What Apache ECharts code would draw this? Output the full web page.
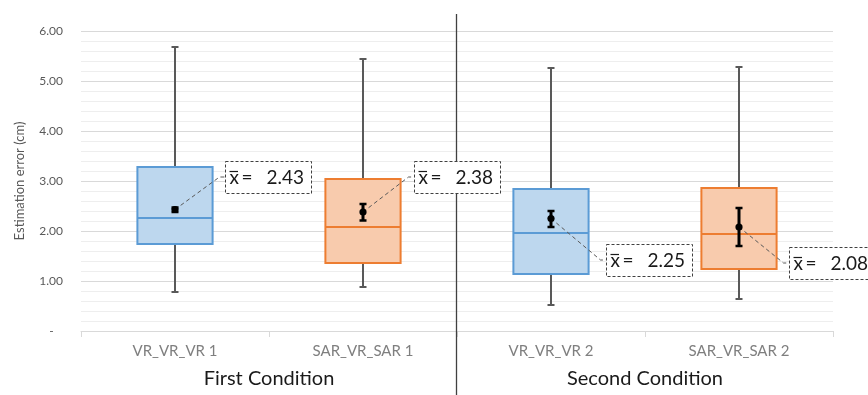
<!DOCTYPE html>
<html>
<head>
<meta charset="utf-8">
<script src="https://cdn.jsdelivr.net/npm/echarts@6/dist/echarts.min.js"></script>
<style>html,body{margin:0;padding:0;background:#fff}#c{width:868px;height:395px}</style>
</head>
<body>
<div id="c"></div>
<script>
// ---- data ----
const categories = ['VR_VR_VR 1', 'SAR_VR_SAR 1', 'VR_VR_VR 2', 'SAR_VR_SAR 2'];
const groups = ['First Condition', 'Second Condition'];
const whiskerLow = [0.78, 0.88, 0.52, 0.64];
const quartile1 = [1.74, 1.36, 1.14, 1.24];
const medians = [2.26, 2.08, 1.96, 1.94];
const quartile3 = [3.28, 3.04, 2.84, 2.86];
const whiskerHigh = [5.68, 5.44, 5.26, 5.28];
const means = [2.43, 2.38, 2.25, 2.08];
const meanErrLow = [2.38, 2.21, 2.08, 1.70];
const meanErrHigh = [2.47, 2.54, 2.40, 2.46];
const yMin = 0, yMax = 6, yStep = 1;

// ---- styles / layout ----
const FONT = 'Lato, "Open Sans", sans-serif';
const boxStyles = [
  { fill: '#BDD7EE', stroke: '#5B9BD5' },
  { fill: '#F8CBAD', stroke: '#ED7D31' }
];
const labelOffsets = [[50, -33], [51, -35], [55, 41], [50, 36]];

const boxData = categories.map((c, i) => [i, whiskerLow[i], quartile1[i], medians[i], quartile3[i], whiskerHigh[i]]);
const meanData = categories.map((c, i) => [i, means[i], meanErrLow[i], meanErrHigh[i]]);

const chart = echarts.init(document.getElementById('c'));

function renderBox(params, api) {
  const i = api.value(0);
  const x = api.coord([i, 0])[0];
  const w = api.size([1, 0])[0] * 0.4;
  const yLo = api.coord([i, api.value(1)])[1];
  const yQ1 = api.coord([i, api.value(2)])[1];
  const yMed = api.coord([i, api.value(3)])[1];
  const yQ3 = api.coord([i, api.value(4)])[1];
  const yHi = api.coord([i, api.value(5)])[1];
  const st = boxStyles[i % 2];
  const wk = { stroke: '#595959', lineWidth: 2 };
  const cap = 3.5;
  return {
    type: 'group',
    children: [
      { type: 'line', shape: { x1: x, y1: yQ3, x2: x, y2: yHi }, style: wk },
      { type: 'line', shape: { x1: x - cap, y1: yHi, x2: x + cap, y2: yHi }, style: wk },
      { type: 'line', shape: { x1: x, y1: yQ1, x2: x, y2: yLo }, style: wk },
      { type: 'line', shape: { x1: x - cap, y1: yLo, x2: x + cap, y2: yLo }, style: wk },
      { type: 'rect', shape: { x: x - w / 2, y: yQ3, width: w, height: yQ1 - yQ3 },
        style: { fill: st.fill, stroke: st.stroke, lineWidth: 2 } },
      { type: 'line', shape: { x1: x - w / 2, y1: yMed, x2: x + w / 2, y2: yMed },
        style: { stroke: st.stroke, lineWidth: 2 } }
    ]
  };
}

function renderMean(params, api) {
  const i = api.value(0);
  const m = api.value(1);
  const p = api.coord([i, m]);
  const lo = api.coord([i, api.value(2)])[1];
  const hi = api.coord([i, api.value(3)])[1];
  const off = labelOffsets[i];
  const bx = Math.round(p[0] + off[0]) + 0.5;
  const cy = Math.round(p[1] + off[1]);
  const bw = 86, bh = 32;
  const ts = { fill: '#1a1a1a', fontSize: 19, fontFamily: FONT, align: 'left', verticalAlign: 'middle' };
  const eb = { stroke: '#000', lineWidth: 3 };
  return {
    type: 'group',
    children: [
      { type: 'polyline', shape: { points: [[p[0], p[1]], [bx - 6, cy], [bx, cy]] },
        style: { stroke: '#595959', lineWidth: 1, lineDash: [4, 3], fill: null } },
      { type: 'line', shape: { x1: p[0], y1: hi, x2: p[0], y2: lo }, style: eb },
      { type: 'line', shape: { x1: p[0] - 3.5, y1: hi, x2: p[0] + 3.5, y2: hi }, style: { stroke: '#000', lineWidth: 2.5 } },
      { type: 'line', shape: { x1: p[0] - 3.5, y1: lo, x2: p[0] + 3.5, y2: lo }, style: { stroke: '#000', lineWidth: 2.5 } },
      { type: 'circle', shape: { cx: p[0], cy: p[1], r: 3.6 }, style: { fill: '#000' } },
      { type: 'rect', shape: { x: bx, y: cy - bh / 2 + 0.5, width: bw, height: bh },
        style: { fill: '#fff', stroke: '#404040', lineWidth: 1, lineDash: [3, 2] } },
      { type: 'text', x: bx + 4, y: cy + 1, style: Object.assign({ text: 'x' }, ts) },
      { type: 'line', shape: { x1: bx + 4, y1: cy - 5.5, x2: bx + 12.5, y2: cy - 5.5 }, style: { stroke: '#1a1a1a', lineWidth: 1.2 } },
      { type: 'text', x: bx + 16, y: cy + 1, style: Object.assign({ text: '=' }, ts) },
      { type: 'text', x: bx + 41, y: cy + 1, style: Object.assign({ text: m.toFixed(2) }, ts) }
    ]
  };
}

const option = {
  animation: false,
  grid: { left: 81, right: 35, top: 31, bottom: 64 },
  xAxis: [
    {
      type: 'category', data: categories, position: 'bottom',
      axisLine: { lineStyle: { color: '#d9d9d9', width: 1 } },
      axisTick: { show: true, length: 6, alignWithLabel: false, lineStyle: { color: '#d9d9d9' } },
      axisLabel: { color: '#7f7f7f', fontSize: 15, fontFamily: FONT, margin: 13 },
      splitLine: { show: false }
    },
    {
      type: 'category', data: groups, position: 'bottom',
      axisLine: { show: false }, axisTick: { show: false },
      axisLabel: { color: '#1a1a1a', fontSize: 20, fontFamily: FONT, margin: 38 },
      splitLine: { show: false }
    }
  ],
  yAxis: {
    type: 'value', min: yMin, max: yMax, interval: yStep,
    name: 'Estimation error (cm)', nameLocation: 'middle', nameGap: 55,
    nameTextStyle: { color: '#595959', fontSize: 13, fontFamily: FONT },
    axisLine: { show: false }, axisTick: { show: false },
    axisLabel: {
      color: '#595959', fontSize: 12, fontFamily: FONT, margin: 18,
      formatter: v => v === 0 ? '-   ' : v.toFixed(2)
    },
    splitLine: { lineStyle: { color: '#d9d9d9' } },
    minorTick: { show: false, splitNumber: 5 },
    minorSplitLine: { show: true, lineStyle: { color: '#eeeeee' } }
  },
  series: [
    { type: 'custom', name: 'box', xAxisIndex: 0, renderItem: renderBox, data: boxData,
      encode: { x: 0, y: [1, 2, 3, 4, 5] }, z: 3 },
    { type: 'custom', name: 'mean', xAxisIndex: 0, renderItem: renderMean, data: meanData,
      encode: { x: 0, y: [1, 2, 3] }, clip: false, z: 5 }
  ]
};
chart.setOption(option);

const xa = chart.convertToPixel({ xAxisIndex: 0 }, categories[1]);
const xb = chart.convertToPixel({ xAxisIndex: 0 }, categories[2]);
const yTop = chart.convertToPixel({ yAxisIndex: 0 }, yMax);
const sepX = Math.round((xa + xb) / 2) - 0.5;
chart.setOption({
  graphic: [{
    type: 'line', z: 1, silent: true,
    shape: { x1: sepX, y1: yTop - 17, x2: sepX, y2: 395 },
    style: { stroke: '#404040', lineWidth: 1.3 }
  }]
});
</script>
</body>
</html>
